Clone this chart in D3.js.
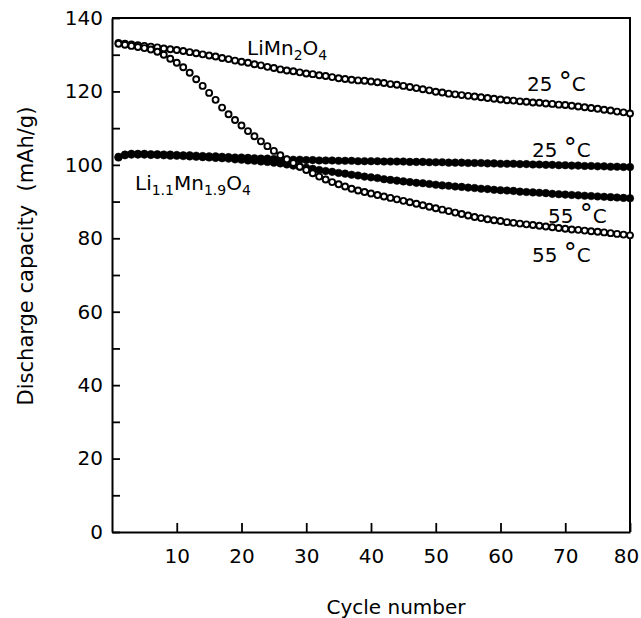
<!DOCTYPE html>
<html>
<head>
<meta charset="utf-8">
<script src="https://cdn.jsdelivr.net/npm/d3@7"></script>
<style>
  body { margin: 0; background: #fff; }
  svg text { font-family: "DejaVu Sans", sans-serif; fill: #000; }
</style>
</head>
<body>
<div id="chart"></div>
<script>
// cycle numbers 1..80
const cycles = d3.range(1, 81);

// LiMn2O4, 25 C (open circles)
const limn25 = [
  133.2, 133.0, 132.8, 132.6, 132.4, 132.2, 132.0, 131.7, 131.5, 131.3,
  131.0, 130.7, 130.4, 130.1, 129.8, 129.5, 129.1, 128.8, 128.4, 128.1,
  127.8, 127.4, 127.1, 126.7, 126.4, 126.0, 125.7, 125.5, 125.2, 124.9,
  124.7, 124.4, 124.2, 123.9, 123.6, 123.4, 123.2, 123.0, 122.9, 122.7,
  122.5, 122.3, 122.0, 121.8, 121.5, 121.2, 120.9, 120.6, 120.3, 119.9,
  119.7, 119.4, 119.2, 119.0, 118.8, 118.6, 118.4, 118.2, 118.0, 117.8,
  117.6, 117.5, 117.3, 117.2, 117.0, 116.9, 116.7, 116.6, 116.4, 116.3,
  116.1, 115.9, 115.7, 115.5, 115.3, 115.0, 114.8, 114.5, 114.3, 114.0
];

// LiMn2O4, 55 C (open circles)
const limn55 = [
  133.0, 132.7, 132.4, 132.1, 131.8, 131.4, 130.8, 130.0, 128.9, 127.8,
  126.6, 125.1, 123.3, 121.5, 119.6, 117.7, 115.6, 113.8, 112.2, 110.7,
  109.2, 107.8, 106.4, 105.1, 103.8, 102.6, 101.5, 100.5, 99.5, 98.6,
  97.7, 96.8, 96.0, 95.3, 94.7, 94.1, 93.5, 93.0, 92.6, 92.2,
  91.8, 91.4, 91.0, 90.6, 90.2, 89.8, 89.4, 89.0, 88.6, 88.2,
  87.8, 87.4, 87.0, 86.6, 86.2, 85.8, 85.5, 85.2, 84.9, 84.7,
  84.4, 84.2, 84.0, 83.8, 83.6, 83.4, 83.2, 83.0, 82.8, 82.6,
  82.4, 82.3, 82.1, 81.9, 81.8, 81.6, 81.4, 81.2, 81.0, 80.8
];

// Li1.1Mn1.9O4, 25 C (filled circles)
const li11_25 = [
  102.2, 102.8, 103.0, 103.0, 103.0, 102.9, 102.9, 102.8, 102.8, 102.7,
  102.6, 102.6, 102.5, 102.4, 102.3, 102.3, 102.2, 102.1, 102.0, 102.0,
  101.9, 101.8, 101.7, 101.7, 101.6, 101.5, 101.5, 101.4, 101.4, 101.3,
  101.3, 101.2, 101.2, 101.2, 101.1, 101.1, 101.1, 101.0, 101.0, 101.0,
  101.0, 100.9, 100.9, 100.9, 100.9, 100.8, 100.8, 100.8, 100.7, 100.7,
  100.7, 100.6, 100.6, 100.6, 100.5, 100.5, 100.5, 100.4, 100.4, 100.3,
  100.3, 100.3, 100.2, 100.2, 100.1, 100.1, 100.0, 100.0, 99.9, 99.9,
  99.8, 99.8, 99.7, 99.7, 99.6, 99.6, 99.5, 99.5, 99.4, 99.4
];

// Li1.1Mn1.9O4, 55 C (filled circles)
const li11_55 = [
  102.0, 102.6, 102.8, 102.8, 102.8, 102.7, 102.7, 102.6, 102.5, 102.5,
  102.4, 102.3, 102.2, 102.1, 102.0, 101.9, 101.8, 101.7, 101.5, 101.4,
  101.2, 101.1, 100.9, 100.8, 100.6, 100.4, 100.1, 99.8, 99.5, 99.2,
  98.9, 98.6, 98.3, 98.1, 97.8, 97.6, 97.3, 97.1, 96.8, 96.6,
  96.4, 96.1, 95.9, 95.7, 95.5, 95.3, 95.1, 95.0, 94.8, 94.6,
  94.4, 94.3, 94.1, 94.0, 93.8, 93.7, 93.5, 93.4, 93.2, 93.1,
  93.0, 92.9, 92.7, 92.6, 92.5, 92.4, 92.3, 92.1, 92.0, 91.9,
  91.8, 91.7, 91.6, 91.5, 91.4, 91.3, 91.2, 91.1, 91.0, 90.9
];

const xTicks = [10, 20, 30, 40, 50, 60, 70, 80];
const yTicks = [0, 10, 20, 30, 40, 50, 60, 70, 80, 90, 100, 110, 120, 130, 140];

const width = 641;
const height = 618;
const margin = {top: 18, right: 11, bottom: 86, left: 112};

const svg = d3.select('#chart')
  .append('svg')
  .attr('width', width)
  .attr('height', height);

const x = d3.scaleLinear()
  .domain([0, 80])
  .range([margin.left, width - margin.right]);

const y = d3.scaleLinear()
  .domain([0, 140])
  .range([height - margin.bottom, margin.top]);

// frame (top + right)
svg.append('path')
  .attr('d', `M${x(0)},${y(140)}H${x(80)}V${y(0)}`)
  .attr('fill', 'none')
  .attr('stroke', '#000')
  .attr('stroke-width', 2);

const yAxis = svg.append('g')
  .attr('transform', `translate(${x(0)},0)`)
  .call(d3.axisLeft(y)
    .tickValues(yTicks)
    .tickSizeInner(-8)
    .tickSizeOuter(0)
    .tickPadding(9)
    .tickFormat(d => d % 20 === 0 ? d : ''));

const xAxis = svg.append('g')
  .attr('transform', `translate(0,${y(0)})`)
  .call(d3.axisBottom(x)
    .tickValues(xTicks)
    .tickSizeInner(-9)
    .tickSizeOuter(0)
    .tickPadding(17)
    .tickFormat(d => d));

[yAxis, xAxis].forEach(g => {
  g.select('.domain').attr('stroke-width', 2);
  g.selectAll('.tick line').attr('stroke-width', 1.8);
  g.selectAll('text').style('font-size', '20px');
});
// keep the last label inside the window
xAxis.selectAll('.tick text').filter(d => d === 80).attr('dx', -4);

// data points
const series = [
  {vals: li11_25, open: false},
  {vals: li11_55, open: false},
  {vals: limn25, open: true},
  {vals: limn55, open: true}
];

series.forEach(s => {
  svg.append('g')
    .selectAll('circle')
    .data(cycles)
    .enter().append('circle')
      .attr('cx', (d) => x(d))
      .attr('cy', (d, i) => y(s.vals[i]))
      .attr('r', s.open ? 3.0 : 3.8)
      .attr('fill', s.open ? '#fff' : '#000')
      .attr('stroke', '#000')
      .attr('stroke-width', s.open ? 1.9 : 0.5);
});

// axis titles
svg.append('text')
  .attr('x', 396)
  .attr('y', 614)
  .attr('text-anchor', 'middle')
  .style('font-size', '20px')
  .text('Cycle number');

svg.append('text')
  .attr('transform', 'translate(33,256) rotate(-90)')
  .attr('text-anchor', 'middle')
  .style('font-size', '21px')
  .style('white-space', 'pre')
  .text('Discharge capacity  (mAh/g)');

// compound labels
function formula(xp, yp, parts) {
  const t = svg.append('text')
    .attr('x', xp)
    .attr('y', yp)
    .style('font-size', '20px');
  parts.forEach(p => {
    t.append('tspan')
      .attr('dy', p.sub ? 5 : (p.back ? -5 : 0))
      .style('font-size', p.sub ? '14px' : '20px')
      .text(p.t);
  });
}

formula(247, 55, [
  {t: 'LiMn'}, {t: '2', sub: true}, {t: 'O', back: true}, {t: '4', sub: true}
]);
formula(135, 190, [
  {t: 'Li'}, {t: '1.1', sub: true}, {t: 'Mn', back: true}, {t: '1.9', sub: true},
  {t: 'O', back: true}, {t: '4', sub: true}
]);

// temperature labels
const tempLabels = [
  {t: '25', x: 527, y: 91},
  {t: '25', x: 532, y: 157},
  {t: '55', x: 548, y: 223},
  {t: '55', x: 532, y: 262}
];
tempLabels.forEach(l => {
  const t = svg.append('text')
    .attr('x', l.x)
    .attr('y', l.y)
    .style('font-size', '20px');
  t.append('tspan').text(l.t + ' ');
  t.append('tspan').style('font-size', '26px').text('°');
  t.append('tspan').text('C');
});
</script>
</body>
</html>
